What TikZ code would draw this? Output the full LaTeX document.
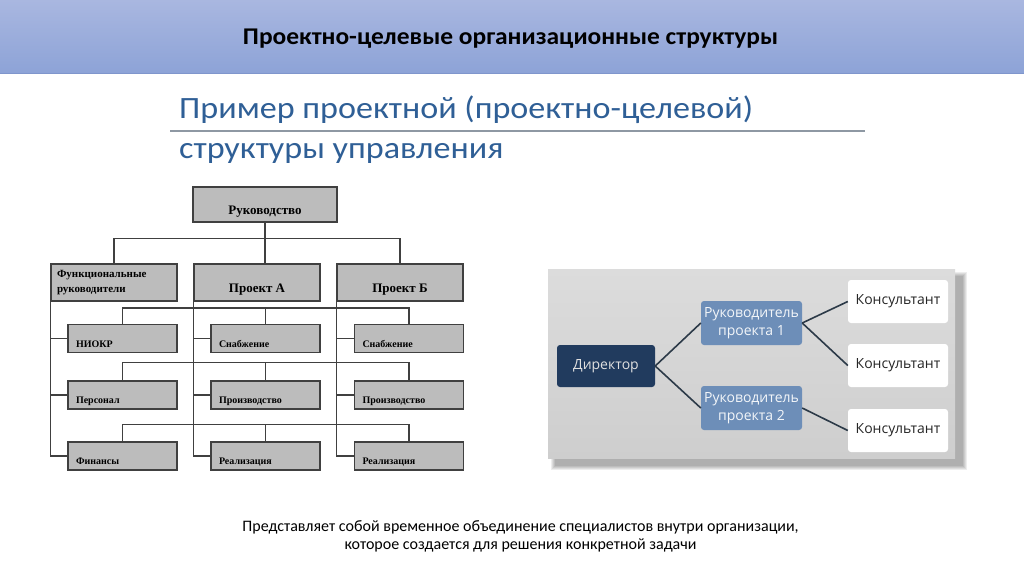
\documentclass[tikz,border=0pt]{standalone}
\usepackage{fontspec}
\setmainfont{Carlito}
\newfontfamily\titlefont[FakeStretch=1.06]{Carlito}
\newfontfamily\subfont[FakeStretch=1.1]{Carlito}
\newfontfamily\chartfont{Liberation Serif}
\newfontfamily\schemefont{Open Sans}

\definecolor{hdrtop}{HTML}{A9B7E0}
\definecolor{hdrbot}{HTML}{8DA3D7}
\definecolor{hdrline}{HTML}{7F96CC}
\definecolor{subblue}{HTML}{2F5F96}
\definecolor{rulegray}{HTML}{8E98A3}
\definecolor{chartgray}{HTML}{BCBCBC}
\definecolor{dirblue}{HTML}{213B5E}
\definecolor{rukblue}{HTML}{6D8EB8}
\definecolor{paneltop}{HTML}{DCDCDC}
\definecolor{panelbot}{HTML}{CECECE}
\definecolor{linkgray}{HTML}{2C3A48}

\begin{document}
\begin{tikzpicture}[x=1pt, y=-1pt,
    orgbox/.style={draw=black!75, fill=chartgray, line width=1.2pt, inner sep=0pt,
                   font=\chartfont\bfseries\fontsize{13}{15}\selectfont},
    depbox/.style={orgbox, minimum width=109pt, minimum height=28pt, text width=93pt,
                   inner xsep=8pt, align=left, text height=17pt, text depth=0pt,
                   font=\chartfont\bfseries\fontsize{10}{11}\selectfont},
    tree/.style={black!75, line width=1.3pt},
    scheme/.style={rounded corners=3pt, inner sep=0pt, align=center,
                   font=\schemefont\fontsize{14}{18}\selectfont},
    link/.style={draw=linkgray, line width=1.6pt}
    ]

    \useasboundingbox (0,0) rectangle (1024,574);
    \fill[white] (0,0) rectangle (1024,574);

    % header
    \shade[top color=hdrtop, bottom color=hdrbot] (0,0) rectangle (1024,73);
    \draw[hdrline, line width=1pt] (0,73) -- (1024,73);
    \node[anchor=base, font=\titlefont\bfseries\fontsize{24}{28}\selectfont] (title) at (510.5,44)
        {Проектно-целевые организационные структуры};

    \node[anchor=base west, inner sep=0pt, text=subblue, font=\subfont\fontsize{31}{36}\selectfont] (sub1) at (179,118)
        {Пример проектной (проектно-целевой)};
    \node[anchor=base west, inner sep=0pt, text=subblue, font=\subfont\fontsize{31}{36}\selectfont] (sub2) at (179,158)
        {структуры управления};
    \draw[rulegray, line width=1.5pt] (170,131) -- (865,131);

    % project structure
    \node[orgbox, minimum width=144pt, minimum height=35pt, text height=19pt, text depth=0pt] (ruk) at (265,204.5) {Руководство};
    \node[orgbox, minimum width=126pt, minimum height=37pt, text width=114pt, inner xsep=6pt, align=left,
          font=\chartfont\bfseries\fontsize{11}{15}\selectfont] (fun) at (114,282.5) {Функциональные\\руководители};
    \node[orgbox, minimum width=126pt, minimum height=37pt, text height=20pt, text depth=0pt] (pa) at (257,282.5) {Проект А};
    \node[orgbox, minimum width=126pt, minimum height=37pt, text height=20pt, text depth=0pt] (pb) at (400,282.5) {Проект Б};

    \foreach \n/\x/\y/\t in {s11/122.5/338.5/НИОКР, s12/265.5/338.5/Снабжение, s13/409/338.5/Снабжение,
                             s21/122.5/395/Персонал, s22/265.5/395/Производство, s23/409/395/Производство,
                             s31/122.5/456/Финансы, s32/265.5/456/Реализация, s33/409/456/Реализация}{
        \node[depbox] (\n) at (\x,\y) {\t};
    }

    \draw[tree] (ruk.south) -- ++(0,16) -| (fun.north);
    \draw[tree] (ruk.south) -- ++(0,16) -| (pb.north);
    \draw[tree] (ruk.south) -- (ruk.south |- pa.north);

    \foreach \r/\d in {1/16,2/18,3/17}{
        \draw[tree] (s\r1.north) -- ++(0,-\d) -| (s\r3.north);
        \draw[tree] (s\r2.north) -- ++(0,-\d);
    }
    \foreach \c/\p in {1/fun,2/pa,3/pb}{
        \foreach \r in {1,2,3}{
            \draw[tree] (\p.south west) |- (s\r\c.west);
        }
    }

    % project team scheme
    \foreach \s in {0,1,2,3,4}{
        \fill[black, opacity=0.07] (551+\s,272+\s) rectangle (967-\s,470-\s);
    }
    \shade[top color=paneltop, bottom color=panelbot] (548,269) rectangle (955,458);

    \node[scheme, fill=dirblue, text=black!12, minimum width=98pt, minimum height=42pt] (dir) at (606,366) {Директор};
    \node[scheme, fill=rukblue, text=white!92!rukblue, minimum width=101pt, minimum height=44pt] (r1) at (751.5,323) {Руководитель\\проекта 1};
    \node[scheme, fill=rukblue, text=white!92!rukblue, minimum width=101pt, minimum height=44pt] (r2) at (751.5,408) {Руководитель\\проекта 2};
    \node[scheme, fill=white, text=black!85, minimum width=100pt, minimum height=43pt] (k1) at (898,301.5) {Консультант};
    \node[scheme, fill=white, text=black!85, minimum width=100pt, minimum height=43pt] (k2) at (898,365.5) {Консультант};
    \node[scheme, fill=white, text=black!85, minimum width=100pt, minimum height=43pt] (k3) at (898,430.5) {Консультант};

    \foreach \a/\b in {dir/r1, dir/r2, r1/k1, r1/k2, r2/k3}{
        \draw (\a.east) edge[link] (\b.west);
    }

    % note
    \node[align=center, font=\fontsize{16}{18}\selectfont] (note) at (520.5,536)
        {Представляет собой временное объединение специалистов внутри организации,\\которое создается для решения конкретной задачи};

\end{tikzpicture}
\end{document}
